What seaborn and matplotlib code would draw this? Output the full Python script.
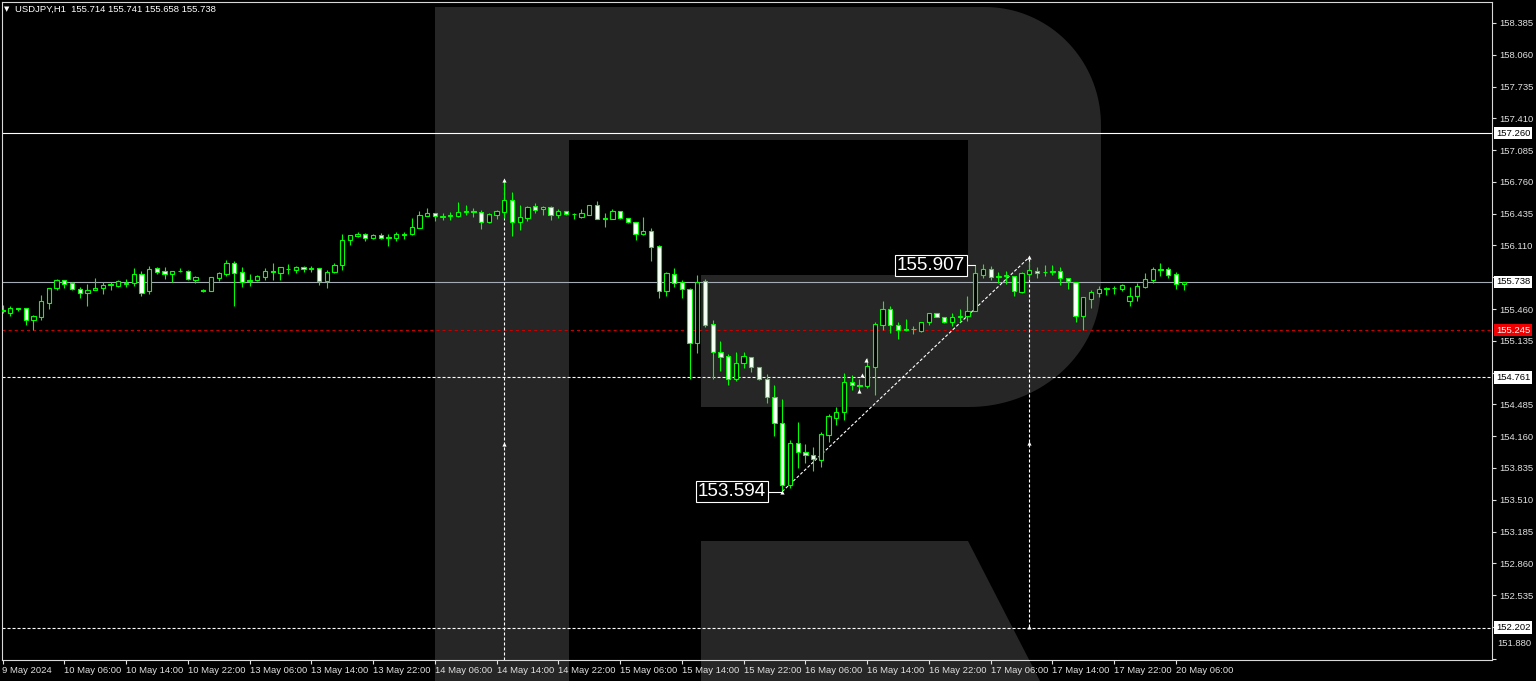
import numpy as np
import pandas as pd
import matplotlib
matplotlib.use("Agg")
import matplotlib.pyplot as plt
import matplotlib.transforms as mtransforms
from matplotlib.patches import Polygon
from matplotlib import font_manager as fm
import seaborn as sns

# ---------------- data (USDJPY, H1) ----------------
opens = [155.45, 155.42, 155.47, 155.47, 155.35, 155.38, 155.52, 155.68, 155.76, 155.73,
         155.67, 155.62, 155.65, 155.68, 155.71, 155.70, 155.72, 155.73, 155.82, 155.64,
         155.88, 155.85, 155.82, 155.85, 155.85, 155.76, 155.65, 155.64, 155.78, 155.82,
         155.93, 155.84, 155.75, 155.76, 155.79, 155.85, 155.83, 155.87, 155.86, 155.89,
         155.87, 155.88, 155.75, 155.84, 155.91, 156.17, 156.21, 156.23, 156.19, 156.22,
         156.19, 156.19, 156.22, 156.23, 156.29, 156.41, 156.44, 156.40, 156.41, 156.41,
         156.45, 156.46, 156.45, 156.35, 156.42, 156.45, 156.58, 156.35, 156.39, 156.51,
         156.48, 156.50, 156.42, 156.46, 156.43, 156.40, 156.42, 156.52, 156.38, 156.38,
         156.46, 156.39, 156.35, 156.23, 156.26, 156.10, 155.64, 155.82, 155.74, 155.67,
         155.11, 155.75, 155.31, 155.02, 154.98, 154.74, 154.91, 154.97, 154.87, 154.75,
         154.56, 154.30, 153.66, 154.09, 154.00, 153.97, 153.92, 154.17, 154.35, 154.41,
         154.71, 154.68, 154.67, 154.87, 155.30, 155.46, 155.30, 155.25, 155.26, 155.24,
         155.33, 155.42, 155.38, 155.33, 155.38, 155.39, 155.44, 155.81, 155.87, 155.79,
         155.80, 155.80, 155.63, 155.82, 155.85, 155.84, 155.84, 155.85, 155.78, 155.74,
         155.39, 155.56, 155.62, 155.67, 155.68, 155.67, 155.54, 155.59, 155.69, 155.76,
         155.86, 155.87, 155.82, 155.714]
highs = [155.50, 155.49, 155.47, 155.47, 155.40, 155.60, 155.68, 155.77, 155.76, 155.74,
         155.69, 155.72, 155.78, 155.74, 155.74, 155.76, 155.77, 155.88, 155.85, 155.90,
         155.89, 155.89, 155.85, 155.88, 155.86, 155.80, 155.67, 155.79, 155.84, 155.96,
         155.95, 155.89, 155.82, 155.81, 155.88, 155.93, 155.89, 155.92, 155.90, 155.90,
         155.90, 155.88, 155.86, 155.93, 156.23, 156.22, 156.25, 156.24, 156.23, 156.24,
         156.23, 156.25, 156.25, 156.39, 156.46, 156.49, 156.44, 156.44, 156.45, 156.55,
         156.52, 156.49, 156.47, 156.44, 156.47, 156.78, 156.66, 156.52, 156.51, 156.54,
         156.51, 156.51, 156.48, 156.46, 156.44, 156.48, 156.52, 156.56, 156.44, 156.48,
         156.46, 156.39, 156.35, 156.40, 156.29, 156.12, 155.84, 155.88, 155.76, 155.68,
         155.81, 155.77, 155.35, 155.13, 155.00, 155.02, 155.02, 154.97, 154.87, 154.80,
         154.68, 154.54, 154.12, 154.31, 154.08, 154.05, 154.20, 154.39, 154.46, 154.81,
         154.79, 154.74, 154.96, 155.33, 155.54, 155.49, 155.33, 155.36, 155.29, 155.33,
         155.42, 155.42, 155.38, 155.42, 155.46, 155.59, 155.907, 155.92, 155.90, 155.84,
         155.85, 155.80, 155.84, 155.95, 155.89, 155.91, 155.91, 155.89, 155.78, 155.74,
         155.58, 155.66, 155.70, 155.69, 155.70, 155.72, 155.69, 155.73, 155.83, 155.89,
         155.93, 155.89, 155.84, 155.741]
lows = [155.42, 155.39, 155.44, 155.30, 155.25, 155.35, 155.46, 155.65, 155.68, 155.65,
        155.57, 155.49, 155.65, 155.61, 155.66, 155.69, 155.69, 155.70, 155.59, 155.61,
        155.82, 155.77, 155.74, 155.84, 155.76, 155.73, 155.63, 155.64, 155.75, 155.80,
        155.49, 155.69, 155.70, 155.75, 155.76, 155.76, 155.76, 155.82, 155.83, 155.84,
        155.84, 155.71, 155.68, 155.83, 155.86, 156.11, 156.20, 156.16, 156.18, 156.18,
        156.10, 156.16, 156.18, 156.22, 156.29, 156.41, 156.36, 156.37, 156.37, 156.40,
        156.42, 156.40, 156.28, 156.34, 156.38, 156.39, 156.21, 156.27, 156.36, 156.44,
        156.42, 156.37, 156.39, 156.42, 156.38, 156.39, 156.42, 156.38, 156.30, 156.38,
        156.38, 156.34, 156.17, 156.22, 155.95, 155.57, 155.59, 155.69, 155.57, 154.74,
        155.01, 155.28, 154.74, 154.83, 154.68, 154.72, 154.86, 154.82, 154.73, 154.50,
        154.16, 153.594, 153.63, 153.84, 153.89, 153.80, 153.85, 154.10, 154.27, 154.33,
        154.63, 154.62, 154.65, 154.58, 155.25, 155.22, 155.15, 155.24, 155.21, 155.23,
        155.30, 155.38, 155.32, 155.29, 155.33, 155.34, 155.44, 155.78, 155.76, 155.73,
        155.72, 155.59, 155.62, 155.77, 155.78, 155.80, 155.81, 155.71, 155.67, 155.33,
        155.25, 155.47, 155.58, 155.60, 155.61, 155.64, 155.49, 155.54, 155.68, 155.73,
        155.80, 155.78, 155.67, 155.658]
closes = [155.44, 155.47, 155.46, 155.35, 155.39, 155.54, 155.68, 155.76, 155.72, 155.67,
          155.62, 155.66, 155.68, 155.71, 155.72, 155.75, 155.73, 155.82, 155.62, 155.87,
          155.84, 155.82, 155.85, 155.85, 155.77, 155.79, 155.64, 155.79, 155.83, 155.93,
          155.83, 155.74, 155.76, 155.80, 155.85, 155.84, 155.89, 155.87, 155.89, 155.87,
          155.88, 155.75, 155.84, 155.91, 156.17, 156.22, 156.23, 156.19, 156.22, 156.19,
          156.20, 156.23, 156.23, 156.30, 156.42, 156.44, 156.41, 156.41, 156.42, 156.45,
          156.46, 156.45, 156.35, 156.43, 156.46, 156.58, 156.35, 156.40, 156.50, 156.47,
          156.50, 156.42, 156.46, 156.43, 156.43, 156.44, 156.52, 156.38, 156.39, 156.46,
          156.39, 156.35, 156.23, 156.26, 156.09, 155.64, 155.83, 155.73, 155.67, 155.11,
          155.74, 155.30, 155.02, 154.97, 154.74, 154.91, 154.98, 154.87, 154.75, 154.56,
          154.30, 153.66, 154.09, 154.00, 153.97, 153.93, 154.18, 154.37, 154.41, 154.71,
          154.68, 154.67, 154.88, 155.31, 155.46, 155.30, 155.25, 155.26, 155.26, 155.33,
          155.42, 155.38, 155.33, 155.38, 155.39, 155.44, 155.83, 155.87, 155.79, 155.80,
          155.81, 155.64, 155.83, 155.86, 155.83, 155.84, 155.85, 155.78, 155.75, 155.39,
          155.58, 155.63, 155.67, 155.68, 155.68, 155.71, 155.59, 155.70, 155.77, 155.87,
          155.87, 155.81, 155.72, 155.738]

time_labels = ["9 May 2024", "10 May 06:00", "10 May 14:00", "10 May 22:00", "13 May 06:00",
               "13 May 14:00", "13 May 22:00", "14 May 06:00", "14 May 14:00", "14 May 22:00",
               "15 May 06:00", "15 May 14:00", "15 May 22:00", "16 May 06:00", "16 May 14:00",
               "16 May 22:00", "17 May 06:00", "17 May 14:00", "17 May 22:00", "20 May 06:00"]
time_label_bar = [0, 8, 16, 24, 32, 40, 48, 56, 64, 72, 80, 88, 96, 104, 112, 120, 128, 136, 144, 152]

price_ticks = [158.385, 158.060, 157.735, 157.410, 157.085, 156.760, 156.435, 156.110, 155.785,
               155.460, 155.135, 154.810, 154.485, 154.160, 153.835, 153.510, 153.185, 152.860,
               152.535, 152.210]
covered_ticks = [155.785, 154.810, 152.210]   # hidden behind the level-line price boxes
bottom_price_label = "151.880"

level_prices = [157.260, 155.738, 155.245, 154.761, 152.202]
level_labels = ["157.260", "155.738", "155.245", "154.761", "152.202"]

low_label, low_bar, low_price = "153.594", 101, 153.594
high_label, high_bar, high_price = "155.907", 126, 155.907
trend_bars = [101, 133]
trend_prices = [153.594, 155.99]
vline_a_bar, vline_a_top = 65, 156.78
vline_b_bar, vline_b_top, vline_b_bottom = 133, 155.99, 152.205
marker_bars = [65, 65, 133, 133, 133, 101, 111.8, 111.3, 110.9]
marker_prices = [156.78, 154.077, 155.99, 154.095, 152.205, 153.594, 154.94, 154.79, 154.62]
title_text = "USDJPY,H1  155.714 155.741 155.658 155.738"

# ---------------- style ----------------
sns.set_theme(style="dark", rc={"axes.facecolor": "black", "figure.facecolor": "black"})
names = {f.name for f in fm.fontManager.ttflist}
plt.rcParams["font.family"] = ["Liberation Sans", "DejaVu Sans"]
plt.rcParams["lines.scale_dashes"] = False
narrow = "Liberation Sans Narrow" if "Liberation Sans Narrow" in names else "Liberation Sans"
big_size = 16.5 if narrow == "Liberation Sans Narrow" else 13.6

W, H = 1536, 681
fig = plt.figure(figsize=(W / 100, H / 100), dpi=100, facecolor="black")

# background watermark logo (pixel coordinates)
bg = fig.add_axes([0, 0, 1, 1], zorder=0)
bg.set_xlim(0, W)
bg.set_ylim(H, 0)
bg.axis("off")
bg.set_facecolor("black")

def arc(cx, cy, rx, ry, a0, a1, n=40):
    t = np.linspace(a0, a1, n)
    return list(zip(cx + rx * np.cos(t), cy + ry * np.sin(t)))

logo_col = "#262626"
outer = [(435, 7)] + arc(985, 125, 116, 118, -np.pi / 2, 0) + arc(969, 285, 132, 122, 0, np.pi / 2) + \
        [(701, 407), (701, 275), (968, 275), (968, 140), (569, 140), (569, H), (435, H)]
bg.add_patch(Polygon(outer, closed=True, fc=logo_col, ec="none"))
bg.add_patch(Polygon([(701, 541), (968, 541), (1040, H), (701, H)], closed=True, fc=logo_col, ec="none"))

# main chart axes
px_per_unit = 97.8
y_top = 158.385 + 21 / px_per_unit
y_bot = 158.385 - 637 / px_per_unit
bar_px = 7.72
ax = fig.add_axes([2 / W, 21 / H, 1490 / W, 658 / H], zorder=1)
ax.set_facecolor("none")
ax.set_xlim((2 - 2.5) / bar_px, (1492 - 2.5) / bar_px)
ax.set_ylim(y_bot, y_top)
ax.grid(False)
for s in ax.spines.values():
    s.set_color("#d8d8d8")
    s.set_linewidth(0.8)

df = pd.DataFrame({"o": opens, "h": highs, "l": lows, "c": closes})
df["i"] = np.arange(len(df))
green = "#00ff00"

# level lines
ax.axhline(157.260, color="white", lw=0.8, zorder=1)
ax.axhline(155.738, color="#a4abb4", lw=0.8, zorder=1)
ax.axhline(155.245, color="#c80000", lw=0.8, dashes=(2.2, 2.2), zorder=1)
ax.axhline(154.761, color="white", lw=0.8, dashes=(2.2, 1.4), zorder=1)
ax.axhline(152.202, color="white", lw=0.8, dashes=(2.2, 1.4), zorder=1)

# analysis drawings
ax.vlines(vline_a_bar, y_bot, vline_a_top, color="white", lw=0.8, linestyles=(0, (2.2, 1.4)), zorder=1.5)
ax.vlines(vline_b_bar, vline_b_bottom, vline_b_top, color="white", lw=0.8, linestyles=(0, (2.2, 1.4)), zorder=1.5)
sns.lineplot(x=trend_bars, y=trend_prices, ax=ax, color="white", lw=0.8, dashes=False, zorder=1.5,
             linestyle=(0, (2.2, 1.4)))
ax.scatter(marker_bars, marker_prices, marker="^", s=9, color="white", zorder=6, linewidths=0)

# candles
ax.vlines(df["i"], df["l"], df["h"], color=green, lw=0.8, zorder=2)
bull = df[df["c"] >= df["o"]]
bear = df[df["c"] < df["o"]]
ax.bar(bull["i"], bull["c"] - bull["o"], bottom=bull["o"], width=0.55, color="black",
       edgecolor=green, linewidth=0.8, zorder=3)
ax.bar(bear["i"], bear["o"] - bear["c"], bottom=bear["c"], width=0.55, color="white",
       edgecolor=green, linewidth=0.8, zorder=3)

# low / high labels
for lab, b, p in [(low_label, low_bar, low_price), (high_label, high_bar, high_price)]:
    off = 16 / bar_px if lab == low_label else 10 / bar_px
    ax.plot([b - off, b], [p, p], color="white", lw=0.8, zorder=6)
    ax.text(b - off, p, lab, ha="right", va="center", color="white", fontsize=big_size, family=narrow,
            zorder=7, bbox=dict(boxstyle="square,pad=0.1", fc="black", ec="white", lw=0.8))

# right price axis
ax.yaxis.tick_right()
ax.set_yticks(price_ticks + [151.880])
ax.set_yticklabels(["" if t in covered_ticks else f"{t:.3f}" for t in price_ticks] + [""])
ax.tick_params(axis="y", colors="#e0e0e0", labelsize=6.8, length=3, width=0.8, pad=2, direction="out",
               right=True, left=False)
ytrans = mtransforms.blended_transform_factory(ax.transAxes, ax.transData)
ax.annotate(bottom_price_label, xy=(1.0, 151.880), xycoords=ytrans, xytext=(4, 11), textcoords="offset points",
            ha="left", va="center", color="#e0e0e0", fontsize=6.8, annotation_clip=False)

level_bg = ["white", "white", "#f00000", "white", "white"]
level_fg = ["black", "black", "white", "black", "black"]
for p, lab, bgc, fgc in zip(level_prices, level_labels, level_bg, level_fg):
    ax.text(1.0 + 4 / 1490, p, lab, transform=ytrans, ha="left", va="center", fontsize=6.8, color=fgc,
            zorder=20, clip_on=False, bbox=dict(boxstyle="square,pad=0.18", fc=bgc, ec="none"))

# bottom time axis
ax.set_xticks(time_label_bar)
ax.set_xticklabels(time_labels)
ax.tick_params(axis="x", colors="#e0e0e0", labelsize=6.8, length=3, width=0.8, pad=1.5, direction="out",
               bottom=True)
for t in ax.get_xticklabels():
    t.set_ha("left")

# title
fig.text(4 / W, 1 - 9 / H, "\u25bc", color="white", fontsize=5, va="center", ha="left",
         family=["DejaVu Sans"])
fig.text(15 / W, 1 - 9 / H, title_text, color="white", fontsize=6.8, va="center", ha="left")

fig.savefig("out.png", dpi=100, facecolor="black")
